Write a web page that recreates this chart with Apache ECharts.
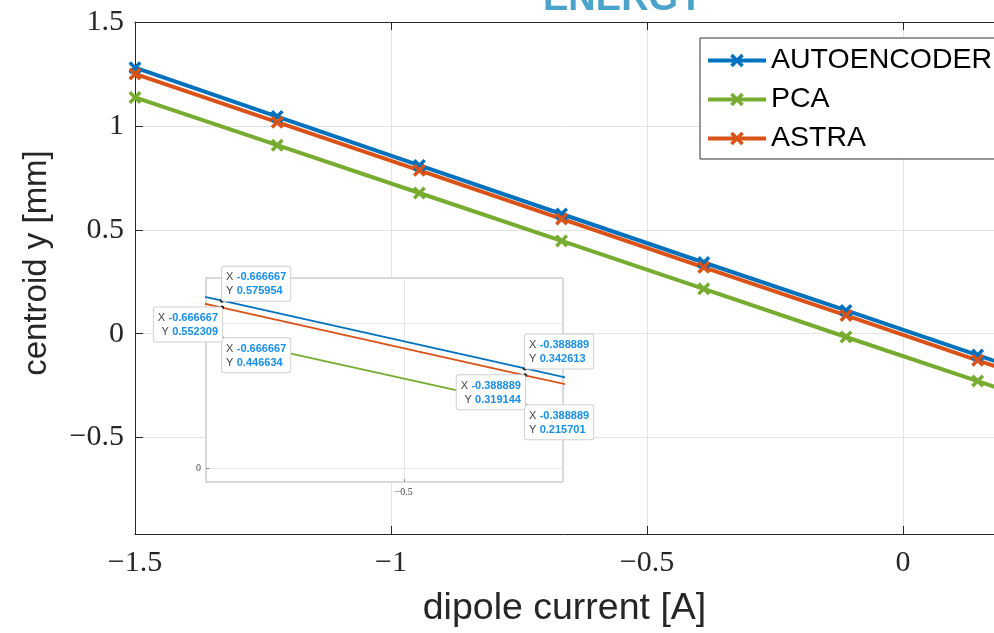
<!DOCTYPE html>
<html>
<head>
<meta charset="utf-8">
<script src="https://cdn.jsdelivr.net/npm/echarts@6/dist/echarts.min.js"></script>
<style>
html,body{margin:0;padding:0;background:#fff;}
#chart{width:994px;height:633px;}
</style>
</head>
<body>
<div id="chart"></div>
<script>
// ---- data ----
const dipoleCurrent = [-1.5, -1.222222, -0.944444, -0.666667, -0.388889, -0.111111, 0.146, 0.444444];
const autoencoder   = [1.280, 1.045, 0.810, 0.575954, 0.342613, 0.112, -0.103, -0.357];
const pca           = [1.137, 0.907, 0.677, 0.446634, 0.215701, -0.016, -0.228, -0.477];
const astra         = [1.250, 1.018, 0.786, 0.552309, 0.319144, 0.088, -0.128, -0.380];
const seriesNames   = ['AUTOENCODER', 'PCA', 'ASTRA'];
const xTicks        = [-1.5, -1, -0.5, 0];
const yTicks        = [-0.5, 0, 0.5, 1, 1.5];
const insetXTicks   = [-0.5];
const insetYTicks   = [0, 0.5];
const insetYLabels  = [0];
const tipIndices    = [3, 4];
const titleText     = 'ENERGY';
const xName         = 'dipole current [A]';
const yName         = 'centroid y [mm]';

const colors = ['#0072BD', '#77AC30', '#D95319'];
const values = [autoencoder, pca, astra];
const xMark = 'path://M0,1.9L1.9,0L5,3.1L8.1,0L10,1.9L6.9,5L10,8.1L8.1,10L5,6.9L1.9,10L0,8.1L3.1,5Z';
const minus = v => String(v).replace('-', '\u2212');
const pairs = arr => dipoleCurrent.map((x, i) => [x, arr[i]]);

const tipPlace = [
  [['left', 'bottom'], ['left', 'bottom']],   // AUTOENCODER
  [['left', 'top'], ['left', 'top']],         // PCA
  [['right', 'top'], ['right', 'top']]        // ASTRA
];

const series = [];
values.forEach((arr, s) => {
  series.push({
    name: seriesNames[s], type: 'line', xAxisIndex: 0, yAxisIndex: 0,
    data: pairs(arr), symbol: xMark, symbolSize: 13, showSymbol: true,
    lineStyle: {width: 4, color: colors[s]}, itemStyle: {color: colors[s]},
    z: 2, animation: false, clip: true
  });
});
values.forEach((arr, s) => {
  series.push({
    name: seriesNames[s] + ' (zoom)', type: 'line', xAxisIndex: 2, yAxisIndex: 1,
    data: pairs(arr), showSymbol: false, symbol: 'none',
    lineStyle: {width: 1.8, color: colors[s]}, itemStyle: {color: colors[s]},
    z: 5, animation: false, clip: true,
    markPoint: {
      symbol: 'circle', symbolSize: 4, itemStyle: {color: '#111'},
      animation: false, z: 12,
      data: tipIndices.map((idx, k) => {
        const pl = tipPlace[s][k];
        return {
          coord: [dipoleCurrent[idx], arr[idx]],
          label: {
            show: true, position: [2, 2], align: pl[0], verticalAlign: pl[1],
            backgroundColor: '#ffffff', borderColor: '#d0d0d0', borderWidth: 1,
            borderRadius: 2, padding: [3, 4, 2, 4],
            formatter: () => '{k|X} {v|' + dipoleCurrent[idx].toFixed(6) + '}\n{k|Y} {v|' + arr[idx].toFixed(6) + '}',
            rich: {
              k: {color: '#444', fontSize: 11, fontFamily: 'Liberation Sans', lineHeight: 14.5},
              v: {color: '#1a8ee8', fontSize: 11, fontWeight: 'bold', fontFamily: 'Liberation Sans', lineHeight: 14.5}
            }
          }
        };
      })
    }
  });
});

const axisColor = '#262626';
const option = {
  animation: false,
  backgroundColor: '#fff',
  graphic: [
    {type: 'text', left: 543, top: -19, z: 10,
     style: {text: titleText, fill: '#4BA3C9', font: 'bold 38px "Liberation Sans"'}},
    {type: 'text', x: 37, y: 263, rotation: Math.PI / 2, z: 10,
     style: {text: yName, fill: axisColor, font: '33px "Liberation Sans"', align: 'center', verticalAlign: 'middle'}}
  ],
  legend: {
    data: seriesNames, orient: 'vertical', left: 700, top: 38,
    itemWidth: 58, itemHeight: 17, itemGap: 10,
    backgroundColor: '#fff', borderColor: '#333', borderWidth: 1,
    padding: [8, 60, 6, 6],
    lineStyle: {width: 4},
    textStyle: {fontFamily: 'Liberation Sans', fontSize: 28.5, color: '#000'},
    z: 8
  },
  grid: [
    {left: 135, top: 22, right: 0, bottom: 633 - 534, containLabel: false},
    {left: 206, top: 278, width: 357, height: 204, show: true, backgroundColor: '#fff',
     borderColor: '#b4b4b4', borderWidth: 1, z: 3}
  ],
  xAxis: [
    {type: 'value', gridIndex: 0, min: -1.5, max: 0.178, position: 'bottom',
     name: xName, nameLocation: 'middle', nameGap: 56,
     nameTextStyle: {fontFamily: 'Liberation Sans', fontSize: 37.5, color: axisColor},
     axisLine: {show: true, onZero: false, lineStyle: {color: axisColor, width: 1}},
     axisTick: {show: true, inside: true, length: 8, customValues: xTicks, lineStyle: {color: axisColor}},
     axisLabel: {show: true, customValues: xTicks, formatter: minus, margin: 14,
       fontFamily: 'Liberation Serif', fontSize: 30, color: axisColor},
     splitLine: {show: true, lineStyle: {color: '#e3e3e3', width: 1}}},
    {type: 'value', gridIndex: 0, min: -1.5, max: 0.178, position: 'top',
     axisLine: {show: true, onZero: false, lineStyle: {color: axisColor, width: 1}},
     axisTick: {show: true, inside: true, length: 8, customValues: xTicks, lineStyle: {color: axisColor}},
     axisLabel: {show: false}, splitLine: {show: false}},
    {type: 'value', gridIndex: 1, min: -0.6814, max: -0.354, position: 'bottom', z: 4,
     axisLine: {show: false, onZero: false},
     axisTick: {show: true, inside: true, length: 3, customValues: insetXTicks, lineStyle: {color: '#888'}},
     axisLabel: {show: true, customValues: insetXTicks, formatter: minus, margin: 5,
       fontFamily: 'Liberation Serif', fontSize: 10, color: '#444'},
     splitLine: {show: true, lineStyle: {color: '#e6e6e6', width: 1}}}
  ],
  yAxis: [
    {type: 'value', gridIndex: 0, min: -0.964, max: 1.5,
     axisLine: {show: true, onZero: false, lineStyle: {color: axisColor, width: 1}},
     axisTick: {show: true, inside: true, length: 8, customValues: yTicks, lineStyle: {color: axisColor}},
     axisLabel: {show: true, customValues: yTicks, formatter: minus, margin: 11,
       fontFamily: 'Liberation Serif', fontSize: 30, color: axisColor},
     splitLine: {show: true, lineStyle: {color: '#e3e3e3', width: 1}}},
    {type: 'value', gridIndex: 1, min: -0.048, max: 0.654, z: 4,
     axisLine: {show: false, onZero: false},
     axisTick: {show: true, inside: true, length: 3, customValues: insetYTicks, lineStyle: {color: '#888'}},
     axisLabel: {show: true, customValues: insetYLabels, formatter: minus, margin: 5,
       fontFamily: 'Liberation Serif', fontSize: 10, color: '#444'},
     splitLine: {show: true, lineStyle: {color: '#e6e6e6', width: 1}}}
  ],
  series: series
};
const chart = echarts.init(document.getElementById('chart'), null, {renderer: 'canvas'});
chart.setOption(option);
</script>
</body>
</html>
